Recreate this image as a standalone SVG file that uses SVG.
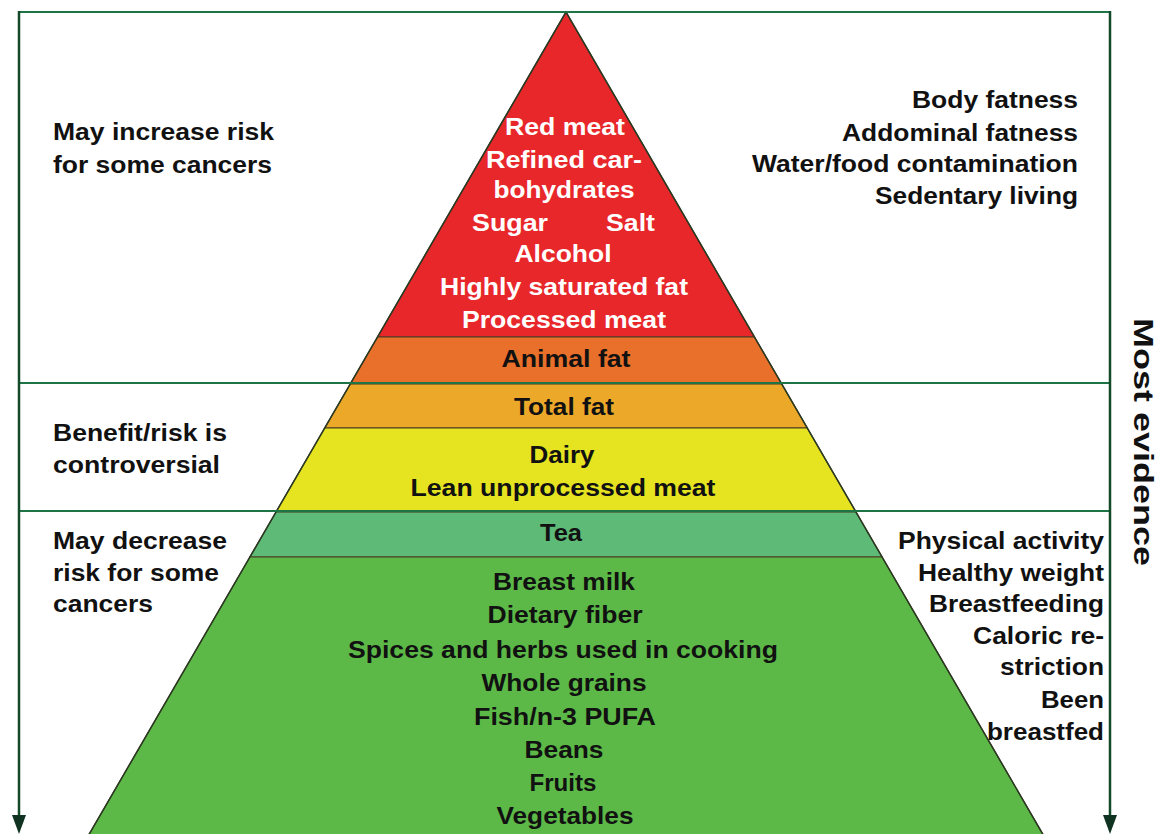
<svg xmlns="http://www.w3.org/2000/svg" width="1165" height="834" viewBox="0 0 1165 834">
<style>
.t{font-family:"Liberation Sans",Arial,sans-serif;font-weight:bold;font-size:23px;fill:#111}
.w{fill:#fff}
.c{text-anchor:middle}
.r{text-anchor:end}
.fr{stroke:#1f7446;stroke-width:2.2;fill:none}
.band{stroke:#4a3b25;stroke-width:1.2}
.ax{stroke:#124a2a;stroke-width:2.5}
.ah{fill:#0f3320}
</style>
<rect width="1165" height="834" fill="#fff"/>
<g id="pyramid">
<polygon class="band" points="566,12 754.5,337 377.5,337" fill="#e8272b"/>
<polygon class="band" points="377.5,337 754.5,337 781.8,384 350.2,384" fill="#e8702a"/>
<polygon class="band" points="350.2,384 781.8,384 807.3,428 324.7,428" fill="#eca829"/>
<polygon class="band" points="324.7,428 807.3,428 856,512 276,512" fill="#e6e321"/>
<polygon class="band" points="276,512 856,512 882.1,557 249.9,557" fill="#5dba77"/>
<polygon class="band" points="249.9,557 882.1,557 1046.2,840 85.8,840" fill="#5cb947"/>
<path d="M85.8,840 L566,12 L1046.2,840" fill="none" stroke="#2a3a22" stroke-width="1.5"/>
</g>
<g id="connectors">
<line class="fr" x1="19" y1="12" x2="1110" y2="12"/>
<line class="fr" x1="19" y1="383" x2="1110" y2="383"/>
<line class="fr" x1="19" y1="511" x2="1110" y2="511"/>
<line class="ax" x1="19" y1="11" x2="19" y2="818"/>
<polygon class="ah" points="12,815 26,815 19,834"/>
<line class="ax" x1="1110" y1="11" x2="1110" y2="818"/>
<polygon class="ah" points="1103,815 1117,815 1110,834"/>
</g>
<g id="top-foods">
<text class="t w c" x="565" y="135" textLength="120" lengthAdjust="spacingAndGlyphs">Red meat</text>
<text class="t w c" x="564" y="168" textLength="156" lengthAdjust="spacingAndGlyphs">Refined car-</text>
<text class="t w c" x="564" y="198" textLength="141" lengthAdjust="spacingAndGlyphs">bohydrates</text>
<text class="t w" x="472" y="231" textLength="76" lengthAdjust="spacingAndGlyphs">Sugar</text>
<text class="t w" x="606" y="231" textLength="49" lengthAdjust="spacingAndGlyphs">Salt</text>
<text class="t w c" x="563" y="262" textLength="97" lengthAdjust="spacingAndGlyphs">Alcohol</text>
<text class="t w c" x="564" y="295" textLength="248" lengthAdjust="spacingAndGlyphs">Highly saturated fat</text>
<text class="t w c" x="564" y="328" textLength="204" lengthAdjust="spacingAndGlyphs">Processed meat</text>
</g>
<g id="animal-fat"><text class="t c" x="566" y="367" textLength="129" lengthAdjust="spacingAndGlyphs">Animal fat</text></g>
<g id="total-fat"><text class="t c" x="564" y="415" textLength="100" lengthAdjust="spacingAndGlyphs">Total fat</text></g>
<g id="dairy">
<text class="t c" x="562" y="463" textLength="65" lengthAdjust="spacingAndGlyphs">Dairy</text>
<text class="t c" x="563" y="496" textLength="305" lengthAdjust="spacingAndGlyphs">Lean unprocessed meat</text>
</g>
<g id="tea"><text class="t c" x="561" y="541" textLength="42" lengthAdjust="spacingAndGlyphs">Tea</text></g>
<g id="base-foods">
<text class="t c" x="564" y="590" textLength="142" lengthAdjust="spacingAndGlyphs">Breast milk</text>
<text class="t c" x="565" y="623" textLength="155" lengthAdjust="spacingAndGlyphs">Dietary fiber</text>
<text class="t c" x="563" y="658" textLength="430" lengthAdjust="spacingAndGlyphs">Spices and herbs used in cooking</text>
<text class="t c" x="564" y="691" textLength="165" lengthAdjust="spacingAndGlyphs">Whole grains</text>
<text class="t c" x="565" y="725" textLength="182" lengthAdjust="spacingAndGlyphs">Fish/n-3 PUFA</text>
<text class="t c" x="564" y="758" textLength="79" lengthAdjust="spacingAndGlyphs">Beans</text>
<text class="t c" x="563" y="791" textLength="67" lengthAdjust="spacingAndGlyphs">Fruits</text>
<text class="t c" x="565" y="824" textLength="137" lengthAdjust="spacingAndGlyphs">Vegetables</text>
</g>
<g id="label-increase">
<text class="t" x="53" y="140" textLength="221" lengthAdjust="spacingAndGlyphs">May increase risk</text>
<text class="t" x="53" y="173" textLength="219" lengthAdjust="spacingAndGlyphs">for some cancers</text>
</g>
<g id="label-controversial">
<text class="t" x="53" y="441" textLength="174" lengthAdjust="spacingAndGlyphs">Benefit/risk is</text>
<text class="t" x="53" y="473" textLength="167" lengthAdjust="spacingAndGlyphs">controversial</text>
</g>
<g id="label-decrease">
<text class="t" x="53" y="549" textLength="174" lengthAdjust="spacingAndGlyphs">May decrease</text>
<text class="t" x="53" y="581" textLength="166" lengthAdjust="spacingAndGlyphs">risk for some</text>
<text class="t" x="53" y="612" textLength="100" lengthAdjust="spacingAndGlyphs">cancers</text>
</g>
<g id="risk-factors">
<text class="t r" x="1078" y="108" textLength="166" lengthAdjust="spacingAndGlyphs">Body fatness</text>
<text class="t r" x="1078" y="141" textLength="236" lengthAdjust="spacingAndGlyphs">Addominal fatness</text>
<text class="t r" x="1078" y="172" textLength="326" lengthAdjust="spacingAndGlyphs">Water/food contamination</text>
<text class="t r" x="1078" y="204" textLength="203" lengthAdjust="spacingAndGlyphs">Sedentary living</text>
</g>
<g id="protective-factors">
<text class="t r" x="1104" y="549" textLength="206" lengthAdjust="spacingAndGlyphs">Physical activity</text>
<text class="t r" x="1104" y="581" textLength="186" lengthAdjust="spacingAndGlyphs">Healthy weight</text>
<text class="t r" x="1104" y="612" textLength="175" lengthAdjust="spacingAndGlyphs">Breastfeeding</text>
<text class="t r" x="1104" y="644" textLength="131" lengthAdjust="spacingAndGlyphs">Caloric re-</text>
<text class="t r" x="1104" y="675" textLength="104" lengthAdjust="spacingAndGlyphs">striction</text>
<text class="t r" x="1104" y="708" textLength="63" lengthAdjust="spacingAndGlyphs">Been</text>
<text class="t r" x="1104" y="740" textLength="117" lengthAdjust="spacingAndGlyphs">breastfed</text>
</g>
<g id="most-evidence">
<text class="t c" x="0" y="0" transform="translate(1134,442) rotate(90)" style="font-size:28px" textLength="248" lengthAdjust="spacingAndGlyphs">Most evidence</text>
</g>
</svg>
